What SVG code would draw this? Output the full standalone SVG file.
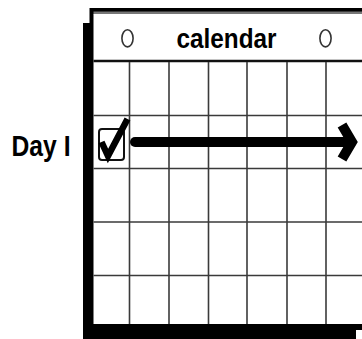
<svg xmlns="http://www.w3.org/2000/svg" width="362" height="339" viewBox="0 0 362 339">
  <style>
    .lbl { font-family: "Liberation Sans", Arial, sans-serif; font-weight: bold; fill: #000; }
    .grid { stroke: #3a3a3a; stroke-width: 1.6; fill: none; }
    .hole { fill: none; stroke: #333; stroke-width: 1.6; }
  </style>
  <rect width="362" height="339" fill="#fff"/>
  <g id="calendar">
    <rect x="83" y="23" width="273" height="316" fill="#000"/>
    <rect x="89.5" y="8" width="280" height="322" fill="#000"/>
    <rect x="93.5" y="11.5" width="280" height="3" fill="#777"/>
    <rect x="93.5" y="14" width="280" height="310" fill="#fff"/>
    <line x1="93.5" y1="61" x2="362" y2="61" stroke="#111" stroke-width="2.6"/>
    <ellipse class="hole" cx="127.5" cy="38.3" rx="5.6" ry="8.6"/>
    <ellipse class="hole" cx="325.5" cy="38.3" rx="5.6" ry="8.6"/>
    <text class="lbl" x="176.5" y="48.3" font-size="27" textLength="100" lengthAdjust="spacingAndGlyphs">calendar</text>
    <g class="grid">
      <line x1="93.5" y1="115.5" x2="362" y2="115.5"/>
      <line x1="93.5" y1="168.5" x2="362" y2="168.5"/>
      <line x1="93.5" y1="222" x2="362" y2="222"/>
      <line x1="93.5" y1="275.5" x2="362" y2="275.5"/>
      <line x1="129.5" y1="62" x2="129.5" y2="324"/>
      <line x1="169" y1="62" x2="169" y2="324"/>
      <line x1="208.5" y1="62" x2="208.5" y2="324"/>
      <line x1="247" y1="62" x2="247" y2="324"/>
      <line x1="287" y1="62" x2="287" y2="324"/>
      <line x1="326" y1="62" x2="326" y2="324"/>
    </g>
  </g>
  <g id="day-label">
    <text class="lbl" x="11.5" y="156" font-size="29" textLength="59" lengthAdjust="spacingAndGlyphs">Day I</text>
  </g>
  <g id="checkbox">
    <rect x="99" y="129" width="25" height="31" rx="3" fill="#fff" stroke="#111" stroke-width="2"/>
    <path d="M101.5,142 L108,156 L127.5,119" fill="none" stroke="#000" stroke-width="6.5" stroke-linejoin="miter"/>
  </g>
  <g id="connectors">
    <line x1="135" y1="142" x2="350" y2="142" stroke="#000" stroke-width="10" stroke-linecap="round"/>
    <polyline points="342,125 352,142 342,159" fill="none" stroke="#000" stroke-width="10" stroke-linejoin="miter"/>
  </g>
</svg>
